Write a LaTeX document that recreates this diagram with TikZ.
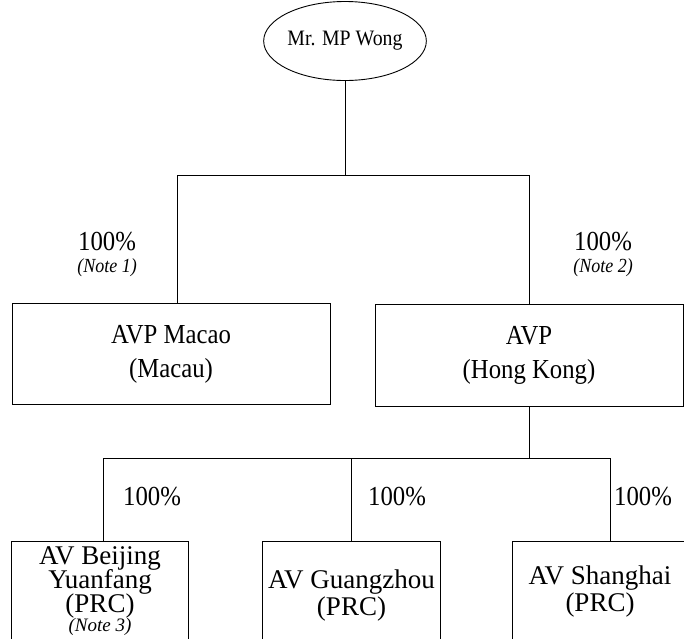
\documentclass[tikz,border=0pt]{standalone}
\usepackage{fontspec}
\setmainfont{Liberation Serif}[FakeStretch=0.9]
\newfontfamily\branchfont{Liberation Serif}
\usetikzlibrary{shapes.geometric}

\tikzset{
  firm/.style={draw, align=center, inner sep=0pt, font=\fontsize{27.5}{34}\selectfont},
  branch/.style={firm, draw=none, font=\branchfont\fontsize{27}{25}\selectfont},
  pct/.style={inner sep=0pt, font=\fontsize{27.5}{30}\selectfont},
  note/.style={inner sep=0pt, font=\itshape\fontsize{20}{22}\selectfont}
}

\begin{document}
\begin{tikzpicture}[x=1pt, y=-1pt, line width=0.9pt]
  \useasboundingbox (0,0) rectangle (684,638);
  \clip (0,0) rectangle (684,638);
  \node[firm, ellipse, minimum width=132, minimum height=79, font=\fontsize{22}{24}\selectfont] (boss) at (345,41) {Mr. MP Wong};
  \node[firm, minimum width=318, minimum height=101] (macao) at (171,354) {AVP Macao\\(Macau)};
  \node[firm, minimum width=308, minimum height=102] (hk) at (529,355) {AVP\\(Hong Kong)};
  \node[branch, minimum width=176, minimum height=99] (bj) at (100,591.5)
    {AV Beijing\\[-1pt]Yuanfang\\[-1pt](PRC)\\[-6pt]{\itshape\fontsize{19}{22}\selectfont(Note 3)}};
  \node[branch, minimum width=177, minimum height=107] (gz) at (351.5,595.5) {AV Guangzhou\\[2pt](PRC)};
  \node[branch, minimum width=175, minimum height=99] (sh) at (600,591.5) {AV Shanghai\\[2pt](PRC)};
  \draw ([yshift=-10pt]bj.south west) |- (bj.north east) -- ([yshift=-10pt]bj.south east);
  \draw ([yshift=-10pt]gz.south west) |- (gz.north east) -- ([yshift=-10pt]gz.south east);
  \draw ([yshift=-10pt]sh.south west) |- ([xshift=10pt]sh.north east) -- ([xshift=10pt,yshift=-10pt]sh.south east);

  \coordinate (bus1) at (0,175);
  \coordinate (bus2) at (0,458);
  \draw (boss.south) -- (boss.south |- bus1);
  \draw ([xshift=6pt]macao.north) |- (hk.north |- bus1) -- (hk.north);
  \draw (hk.south) -- (hk.south |- bus2);
  \draw ([xshift=3pt]bj.north) |- ([xshift=10pt]sh.north |- bus2) -- ([xshift=10pt]sh.north);
  \draw (gz.north) -- (gz.north |- bus2);

  \node[pct] (p1) at (107,242) {100\%};
  \node[note] (n1) at (107,268) {(Note 1)};
  \node[pct] (p2) at (603,242) {100\%};
  \node[note] (n2) at (603,268) {(Note 2)};
  \node[pct] (p3) at (152,497) {100\%};
  \node[pct] (p4) at (397,497) {100\%};
  \node[pct] (p5) at (643,497) {100\%};
\end{tikzpicture}
\end{document}
